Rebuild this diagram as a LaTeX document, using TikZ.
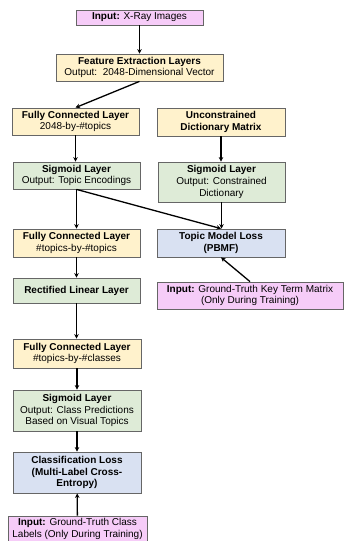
\documentclass[tikz,border=0pt]{standalone}
\usepackage{fontspec}
\setmainfont{Liberation Sans}
\usetikzlibrary{arrows.meta}
\definecolor{pinkf}{HTML}{F6CCF8}
\definecolor{yelf}{HTML}{FFF2CC}
\definecolor{grnf}{HTML}{DEEBD7}
\definecolor{bluf}{HTML}{D9E1F2}
\definecolor{bord}{HTML}{666666}
\tikzset{
  box/.style={draw=bord, line width=0.8pt, inner sep=1pt, align=center,
    font=\fontsize{10}{11.7}\selectfont},
  inbox/.style={box, fill=pinkf},
  ybox/.style={box, fill=yelf},
  gbox/.style={box, fill=grnf},
  bbox/.style={box, fill=bluf},
  conn/.style={line width=1.3pt, -{Stealth[length=4.5pt,width=4.5pt]}}
}
\begin{document}
\begin{tikzpicture}[x=1pt,y=-1pt]
\useasboundingbox (0,0) rectangle (344,541);
\node[inbox, minimum width=127pt, minimum height=15pt] (in1) at (139.5,17.5) {\textbf{Input:} X-Ray Images};
\node[ybox, minimum width=167pt, minimum height=27pt] (fe) at (139.5,67.5) {\textbf{Feature Extraction Layers}\\Output:\ \ 2048-Dimensional Vector};
\node[ybox, minimum width=127pt, minimum height=27pt] (fc1) at (75.5,121.5) {\textbf{Fully Connected Layer}\\2048-by-\#topics};
\node[ybox, minimum width=128pt, minimum height=28pt] (ud) at (221,122) {\textbf{Unconstrained}\\\textbf{Dictionary Matrix}};
\node[gbox, minimum width=127pt, minimum height=27pt] (sig1) at (76.5,175.5) {\textbf{Sigmoid Layer}\\Output: Topic Encodings};
\node[gbox, minimum width=127pt, minimum height=40pt] (sig2) at (221.5,182) {\textbf{Sigmoid Layer}\\Output: Constrained\\Dictionary};
\node[ybox, minimum width=127pt, minimum height=28pt] (fc2) at (76.5,243) {\textbf{Fully Connected Layer}\\\#topics-by-\#topics};
\node[bbox, minimum width=128pt, minimum height=28pt] (tml) at (221,243) {\textbf{Topic Model Loss}\\\textbf{(PBMF)}};
\node[gbox, minimum width=127pt, minimum height=25pt] (relu) at (76.5,290.5) {\textbf{Rectified Linear Layer}};
\node[inbox, minimum width=186pt, minimum height=27pt] (ikt) at (250,295.5) {\textbf{Input:} Ground-Truth Key Term Matrix\\(Only During Training)};
\node[ybox, minimum width=128pt, minimum height=29pt] (fc3) at (77,353.5) {\textbf{Fully Connected Layer}\\\#topics-by-\#classes};
\node[gbox, minimum width=128pt, minimum height=41pt] (sig3) at (77,410.5) {\textbf{Sigmoid Layer}\\Output: Class Predictions\\Based on Visual Topics};
\node[bbox, minimum width=128pt, minimum height=41pt] (cl) at (77,472.5) {\textbf{Classification Loss}\\\textbf{(Multi-Label Cross-}\\\textbf{Entropy)}};
\node[inbox, minimum width=139pt, minimum height=26pt] (igt) at (77.5,529) {\textbf{Input:} Ground-Truth Class\\Labels (Only During Training)};
\draw[conn] (in1) -- (fe);
\draw[conn] (fe.south) -- (fc1.north);
\draw[conn] (fc1) -- (fc1|-sig1.north);
\draw[conn] (ud) -- (ud|-sig2.north);
\draw[conn] (sig1) -- (sig1|-fc2.north);
\draw[conn] (sig1.south) -- (tml.north);
\draw[conn] (sig2) -- (sig2|-tml.north);
\draw[conn] (ikt.north) -- (tml.south);
\draw[conn] (fc2) -- (fc2|-relu.north);
\draw[conn] (relu) -- (relu|-fc3.north);
\draw[conn] (fc3) -- (sig3);
\draw[conn] (sig3) -- (cl);
\draw[conn] (igt) -- (cl);
\end{tikzpicture}
\end{document}
